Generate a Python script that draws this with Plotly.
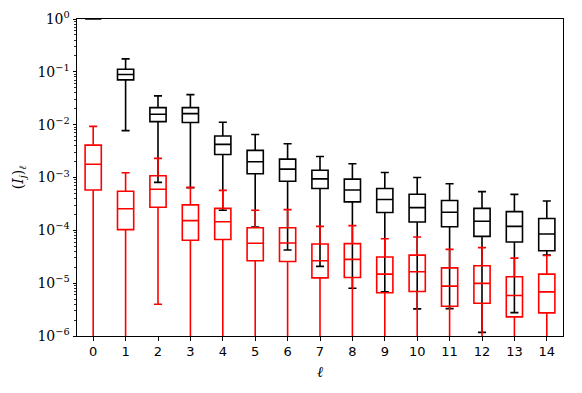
import plotly.graph_objects as go

ells = list(range(15))
tick_labels = [str(v) for v in ells]

# black series (box statistics)
black_q1 = [1.0, 0.0705, 0.0114, 0.011, 2.73e-3, 1.18e-3, 8.5e-4, 6.2e-4, 3.45e-4, 2.18e-4, 1.44e-4, 1.17e-4, 7.7e-5, 6.0e-5, 4.1e-5]
black_med = [1.0, 0.089, 0.0157, 0.0162, 4.23e-3, 1.99e-3, 1.44e-3, 9.4e-4, 5.8e-4, 3.83e-4, 2.69e-4, 2.2e-4, 1.49e-4, 1.19e-4, 8.5e-5]
black_q3 = [1.0, 0.112, 0.021, 0.021, 6.1e-3, 3.26e-3, 2.23e-3, 1.37e-3, 9.3e-4, 6.2e-4, 4.82e-4, 3.66e-4, 2.6e-4, 2.26e-4, 1.67e-4]
black_lo = [1.0, 7.7e-3, 8.1e-4, 6.4e-4, 2.4e-4, 1.15e-4, 4.24e-5, 2.08e-5, 8.0e-6, 6.9e-6, 3.26e-6, 3.3e-6, 1.17e-6, 2.77e-6, 3.4e-5]
black_hi = [1.0, 0.176, 0.035, 0.037, 0.0111, 6.5e-3, 4.36e-3, 2.5e-3, 1.82e-3, 1.24e-3, 1.0e-3, 7.6e-4, 5.4e-4, 4.8e-4, 3.6e-4]

# red series (box statistics); lower whiskers reach zero
red_q1 = [5.8e-4, 1.03e-4, 2.74e-4, 6.5e-5, 6.7e-5, 2.65e-5, 2.57e-5, 1.26e-5, 1.28e-5, 6.6e-6, 6.95e-6, 3.66e-6, 4.17e-6, 2.3e-6, 2.74e-6]
red_med = [1.78e-3, 2.57e-4, 6.0e-4, 1.53e-4, 1.45e-4, 5.7e-5, 5.75e-5, 2.65e-5, 2.82e-5, 1.48e-5, 1.64e-5, 8.8e-6, 9.9e-6, 5.83e-6, 6.85e-6]
red_q3 = [4.1e-3, 5.5e-4, 1.08e-3, 3.03e-4, 2.6e-4, 1.12e-4, 1.12e-4, 5.5e-5, 5.6e-5, 3.12e-5, 3.4e-5, 1.95e-5, 2.13e-5, 1.32e-5, 1.48e-5]
red_lo = [1e-12, 1e-12, 4.0e-6, 1e-12, 1e-12, 1e-12, 1e-12, 1e-12, 1e-12, 1e-12, 1e-12, 1e-12, 1e-12, 1e-12, 1e-12]
red_hi = [9.3e-3, 1.23e-3, 2.3e-3, 6.5e-4, 5.7e-4, 2.4e-4, 2.47e-4, 1.19e-4, 1.23e-4, 6.95e-5, 7.5e-5, 4.36e-5, 4.7e-5, 2.98e-5, 3.35e-5]

decades = list(range(-6, 1))
y_tick_vals = [10.0 ** e for e in decades]
y_tick_text = ["10<sup>%s</sup>" % (str(e).replace("-", "\u2212")) for e in decades]
y_minor_vals = [k * 10.0 ** e for e in decades[:-1] for k in range(2, 10)]

fig = go.Figure()

def add_box(q1, med, q3, lo, hi, color):
    fig.add_trace(go.Box(
        x=ells, q1=q1, median=med, q3=q3, lowerfence=lo, upperfence=hi,
        width=0.5, whiskerwidth=0.5,
        line=dict(color=color, width=1.6),
        fillcolor="rgba(0,0,0,0)",
        boxpoints=False, showlegend=False, hoverinfo="skip",
    ))

add_box(black_q1, black_med, black_q3, black_lo, black_hi, "black")
add_box(red_q1, red_med, red_q3, red_lo, red_hi, "red")

fig.update_layout(
    width=582, height=393,
    margin=dict(l=77, r=19, t=19, b=57, autoexpand=False),
    plot_bgcolor="white", paper_bgcolor="white",
    boxmode="overlay",
    font=dict(family="DejaVu Sans", size=13, color="black"),
)

fig.update_xaxes(
    automargin=False,
    range=[-0.5, 14.5], tickmode="array", tickvals=ells, ticktext=tick_labels,
    ticks="outside", ticklen=3.5, tickwidth=1, tickcolor="black",
    showline=True, linecolor="black", linewidth=1, mirror=True,
    showgrid=False, zeroline=False,
    tickfont=dict(family="DejaVu Sans", size=13),
    title=dict(text="<i>ℓ</i>", font=dict(family="DejaVu Serif", size=15), standoff=8),
)

fig.update_yaxes(
    automargin=False,
    type="log", range=[-6, 0], tickmode="array", tickvals=y_tick_vals, ticktext=y_tick_text,
    ticks="outside", ticklen=3.5, tickwidth=1, tickcolor="black",
    minor=dict(tickmode="array", tickvals=y_minor_vals, ticks="outside", ticklen=2,
               tickwidth=0.8, tickcolor="black", showgrid=False),
    showline=True, linecolor="black", linewidth=1, mirror=True,
    showgrid=False, zeroline=False,
    tickfont=dict(family="DejaVu Serif", size=14),
    title=dict(text="(<i>I<sub>j</sub></i>)<sub><i>ℓ</i></sub>", font=dict(family="DejaVu Serif", size=14), standoff=10),
)

fig.write_html("out.html", config={"displayModeBar": False, "staticPlot": True},
               post_script="document.body.style.margin='0';document.body.style.padding='0';")
